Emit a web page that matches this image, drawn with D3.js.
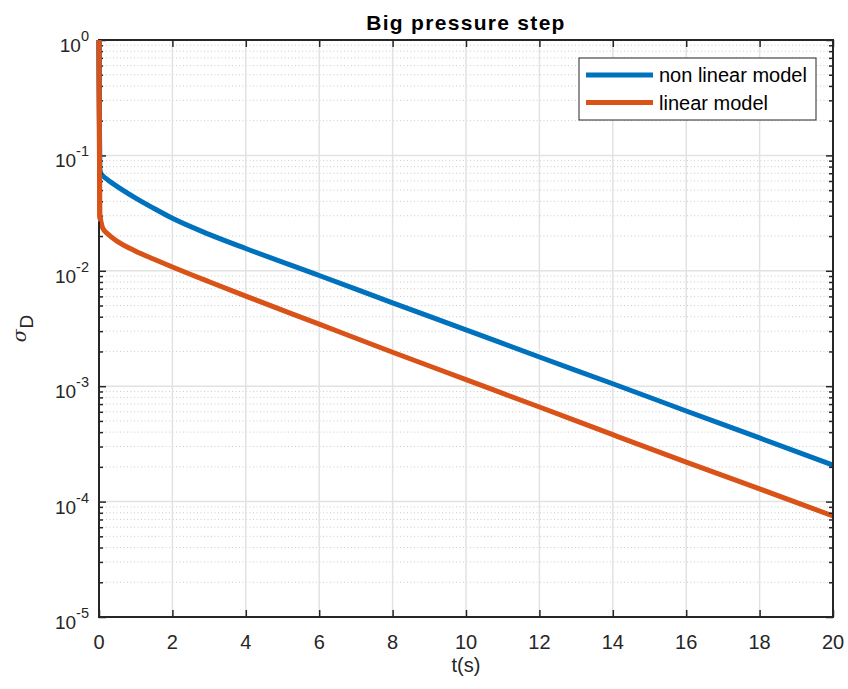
<!DOCTYPE html>
<html><head><meta charset="utf-8">
<script src="https://cdn.jsdelivr.net/npm/d3@7"></script>
<style>body{margin:0;background:#fff}svg{display:block}text{font-family:"Liberation Sans",Arial,sans-serif;fill:#262626}</style>
</head><body><svg id="c" width="848" height="689"></svg>
<script>
const tNon = [0, 0.02, 0.05, 0.1, 0.25, 0.5, 1, 1.5, 2, 3, 4, 6, 8, 10, 12, 14, 16, 18, 20];
const yNon = [1, 0.075, 0.07, 0.0668, 0.061, 0.0537, 0.0427, 0.0347, 0.0285, 0.0207, 0.0156, 0.0091, 0.00528, 0.00308, 0.00179, 0.00105, 0.00061, 0.000356, 0.000207];
const tLin = [0, 0.02, 0.05, 0.1, 0.25, 0.5, 1, 1.5, 2, 3, 4, 6, 8, 10, 12, 14, 16, 18, 20];
const yLin = [1, 0.03, 0.027, 0.0235, 0.0207, 0.018, 0.0148, 0.0126, 0.0108, 0.00804, 0.00603, 0.00345, 0.00197, 0.00114, 0.00066, 0.00038, 0.00022, 0.000129, 0.000075];
const seriesNames = ["non linear model", "linear model"];
const seriesColors = ["#0072BD", "#D95319"];
const xTicks = [0, 2, 4, 6, 8, 10, 12, 14, 16, 18, 20];
const yExponents = [0, -1, -2, -3, -4, -5];
const titleText = "Big pressure step";
const xLabel = "t(s)";

const svg = d3.select("#c");
const L = 99, R = 833, T = 40, B = 617;
const x = d3.scaleLinear().domain([0, 20]).range([L, R]);
const y = d3.scaleLog().domain([1e-5, 1]).range([B, T]);

const minorVals = [];
for (let e = -5; e < 0; e++) for (let m = 2; m <= 9; m++) minorVals.push(m * Math.pow(10, e));
const majorVals = yExponents.map(e => Math.pow(10, e));

const g = svg.append("g");
g.selectAll(".mg").data(minorVals).enter().append("line")
  .attr("x1", L).attr("x2", R).attr("y1", d => y(d)).attr("y2", d => y(d))
  .attr("stroke", "#cccccc").attr("stroke-width", 1).attr("stroke-dasharray", "1,2.5");
g.selectAll(".gy").data(majorVals).enter().append("line")
  .attr("x1", L).attr("x2", R).attr("y1", d => y(d)).attr("y2", d => y(d))
  .attr("stroke", "#e2e2e2").attr("stroke-width", 1.5);
g.selectAll(".gx").data(xTicks).enter().append("line")
  .attr("y1", T).attr("y2", B).attr("x1", d => x(d)).attr("x2", d => x(d))
  .attr("stroke", "#e2e2e2").attr("stroke-width", 1.5);

const line = d3.line().x(d => x(d[0])).y(d => y(d[1])).curve(d3.curveMonotoneX);
const data = [tNon.map((t, i) => [t, yNon[i]]), tLin.map((t, i) => [t, yLin[i]])];
svg.append("clipPath").attr("id", "clp").append("rect").attr("x", L - 5).attr("y", T).attr("width", R - L + 8).attr("height", B - T);
data.forEach((d, i) => {
  svg.append("path").datum(d).attr("d", line).attr("fill", "none")
    .attr("stroke", seriesColors[i]).attr("stroke-width", 5)
    .attr("stroke-linejoin", "round").attr("clip-path", "url(#clp)");
});

const axCol = "#262626";
const mk = (a, vals, size) => a.tickValues(vals).tickSizeInner(-size).tickSizeOuter(0).tickFormat("");
const specs = [
  [mk(d3.axisBottom(x), xTicks, 7), `translate(0,${B})`],
  [mk(d3.axisTop(x), xTicks, 7), `translate(0,${T})`],
  [mk(d3.axisLeft(y), majorVals, 7), `translate(${L},0)`],
  [mk(d3.axisRight(y), majorVals, 7), `translate(${R},0)`],
  [mk(d3.axisLeft(y), minorVals, 4), `translate(${L},0)`],
  [mk(d3.axisRight(y), minorVals, 4), `translate(${R},0)`]
];
specs.forEach(([a, tr]) => {
  const ag = svg.append("g").attr("transform", tr).call(a);
  ag.selectAll("line").attr("stroke", axCol).attr("stroke-width", 1.5);
  ag.select(".domain").remove();
});
svg.append("rect").attr("x", L).attr("y", T).attr("width", R - L).attr("height", B - T)
  .attr("fill", "none").attr("stroke", axCol).attr("stroke-width", 2);

// redraw the vertical t=0 parts above the axis line
data.forEach((d, i) => {
  svg.append("path").datum(d.slice(0, 3)).attr("d", line).attr("fill", "none")
    .attr("stroke", seriesColors[i]).attr("stroke-width", 5)
    .attr("stroke-linejoin", "round").attr("clip-path", "url(#clp)");
});

svg.selectAll(".xl").data(xTicks).enter().append("text")
  .attr("x", d => x(d)).attr("y", B + 32).attr("text-anchor", "middle")
  .attr("font-size", 20).text(d => d);
yExponents.forEach(e => {
  const t = svg.append("text").attr("x", L - 10).attr("y", y(Math.pow(10, e)) + 12)
    .attr("text-anchor", "end").attr("font-size", 19);
  t.append("tspan").text("10");
  t.append("tspan").attr("dy", -11).attr("font-size", 14.5).text(e);
});
svg.append("text").attr("x", (L + R) / 2).attr("y", B + 55).attr("text-anchor", "middle")
  .attr("font-size", 20).text(xLabel);
const yt = svg.append("text").attr("transform", `translate(26,${(T + B) / 2}) rotate(-90)`)
  .attr("text-anchor", "middle").attr("font-size", 20);
yt.append("tspan").attr("font-style", "italic").attr("font-family", "DejaVu Serif").attr("font-size", 19).text("σ");
yt.append("tspan").attr("dy", 7).attr("dx", 1).attr("font-size", 19).text("D");
svg.append("text").attr("x", (L + R) / 2).attr("y", 30).attr("text-anchor", "middle")
  .attr("font-size", 21).attr("font-weight", "bold").style("letter-spacing", "1.3px").style("fill", "#000").text(titleText);

const lg = svg.append("g");
lg.append("rect").attr("x", 579).attr("y", 58).attr("width", 237).attr("height", 62)
  .attr("fill", "#fff").attr("stroke", "#262626").attr("stroke-width", 1);
seriesNames.forEach((n, i) => {
  const yy = 75 + i * 27.5;
  lg.append("line").attr("x1", 586).attr("x2", 653).attr("y1", yy).attr("y2", yy)
    .attr("stroke", seriesColors[i]).attr("stroke-width", 5);
  lg.append("text").attr("x", 659).attr("y", yy + 7).attr("font-size", 20).style("fill", "#000").text(n);
});
</script></body></html>
